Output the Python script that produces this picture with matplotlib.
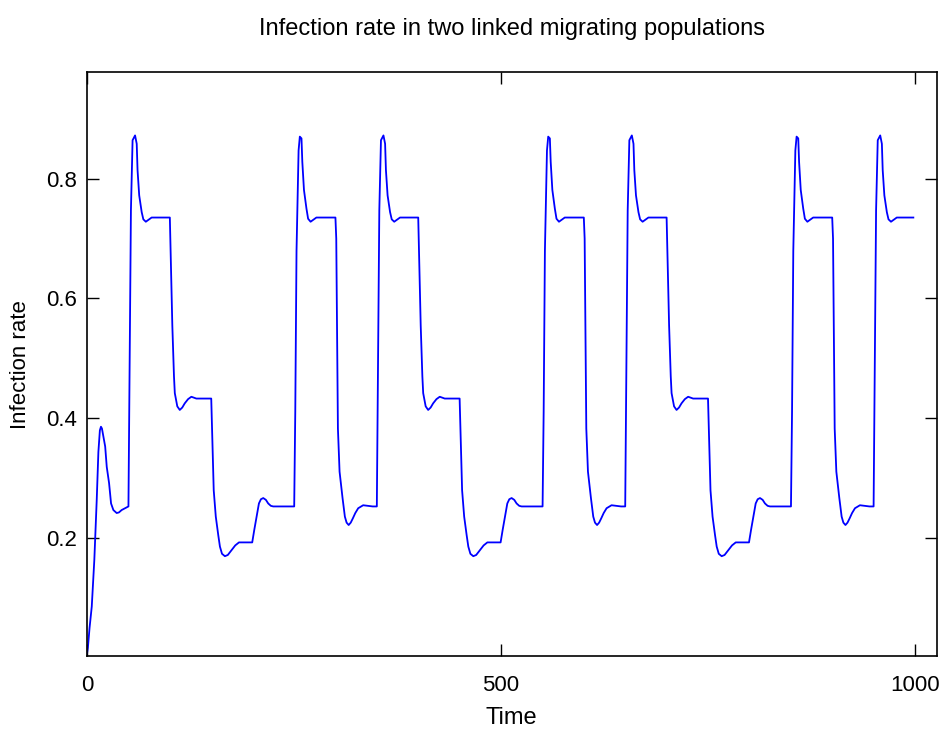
import matplotlib
matplotlib.use("Agg")
import matplotlib.pyplot as plt

plt.rcParams["font.family"] = ["Liberation Sans", "DejaVu Sans"]

# values
time = [0, 1, 3, 5.7, 8.8, 11.7, 13.7, 15.5, 16.8, 18, 21.9, 23.8, 26.6, 29, 31.8, 35.8, 38.5, 41.8, 46,
        # cycle starting at 50
        50, 51, 53, 55, 58, 60, 61, 63, 66, 68, 71, 74, 78, 100,
        101, 103, 105, 106, 109, 112, 115, 118, 122, 126, 132, 150,
        151.5, 153, 155.5, 158.5, 160.5, 163, 166.5, 170, 174.5, 179, 183.5, 199.5,
        202, 204.8, 207.6, 210, 212.8, 216, 218.8, 222, 224.9, 250.2,
        251.5, 253, 255.5, 257, 259, 260, 262, 265, 267, 270, 273, 277, 300,
        301, 303, 305, 308.6, 311.4, 313.5, 316, 318.5, 321, 324, 327.5, 333.5, 345,
        # cycle starting at 350
        350, 351, 353, 355, 358, 360, 361, 363, 366, 368, 371, 374, 378, 400,
        401, 403, 405, 406, 409, 412, 415, 418, 422, 426, 432, 450,
        451.5, 453, 455.5, 458.5, 460.5, 463, 466.5, 470, 474.5, 479, 483.5, 499.5,
        502, 504.8, 507.6, 510, 512.8, 516, 518.8, 522, 524.9, 550.2,
        551.5, 553, 555.5, 557, 559, 560, 562, 565, 567, 570, 573, 577, 600,
        601, 603, 605, 608.6, 611.4, 613.5, 616, 618.5, 621, 624, 627.5, 633.5, 645,
        # cycle starting at 650
        650, 651, 653, 655, 658, 660, 661, 663, 666, 668, 671, 674, 678, 700,
        701, 703, 705, 706, 709, 712, 715, 718, 722, 726, 732, 750,
        751.5, 753, 755.5, 758.5, 760.5, 763, 766.5, 770, 774.5, 779, 783.5, 799.5,
        802, 804.8, 807.6, 810, 812.8, 816, 818.8, 822, 824.9, 850.2,
        851.5, 853, 855.5, 857, 859, 860, 862, 865, 867, 870, 873, 877, 900,
        901, 903, 905, 908.6, 911.4, 913.5, 916, 918.5, 921, 924, 927.5, 933.5, 945,
        # last rise
        950, 951, 953, 955, 958, 960, 961, 963, 966, 968, 971, 974, 978, 998]

rate = [0.008, 0.017, 0.05, 0.086, 0.164, 0.264, 0.344, 0.38, 0.386, 0.383, 0.353, 0.319, 0.292, 0.258, 0.247, 0.242, 0.243, 0.247, 0.25,
        0.253, 0.42, 0.747, 0.864, 0.872, 0.858, 0.814, 0.772, 0.744, 0.732, 0.728, 0.731, 0.735, 0.735,
        0.675, 0.555, 0.47, 0.442, 0.42, 0.414, 0.418, 0.425, 0.432, 0.436, 0.433, 0.433,
        0.353, 0.28, 0.236, 0.205, 0.186, 0.174, 0.170, 0.172, 0.180, 0.188, 0.193, 0.193,
        0.214, 0.236, 0.258, 0.265, 0.267, 0.264, 0.258, 0.254, 0.253, 0.253,
        0.411, 0.679, 0.847, 0.870, 0.867, 0.828, 0.781, 0.75, 0.733, 0.728, 0.731, 0.735, 0.735,
        0.70, 0.383, 0.311, 0.267, 0.236, 0.226, 0.222, 0.226, 0.233, 0.242, 0.25, 0.255, 0.253,

        0.253, 0.42, 0.747, 0.864, 0.872, 0.858, 0.814, 0.772, 0.744, 0.732, 0.728, 0.731, 0.735, 0.735,
        0.675, 0.555, 0.47, 0.442, 0.42, 0.414, 0.418, 0.425, 0.432, 0.436, 0.433, 0.433,
        0.353, 0.28, 0.236, 0.205, 0.186, 0.174, 0.170, 0.172, 0.180, 0.188, 0.193, 0.193,
        0.214, 0.236, 0.258, 0.265, 0.267, 0.264, 0.258, 0.254, 0.253, 0.253,
        0.411, 0.679, 0.847, 0.870, 0.867, 0.828, 0.781, 0.75, 0.733, 0.728, 0.731, 0.735, 0.735,
        0.70, 0.383, 0.311, 0.267, 0.236, 0.226, 0.222, 0.226, 0.233, 0.242, 0.25, 0.255, 0.253,

        0.253, 0.42, 0.747, 0.864, 0.872, 0.858, 0.814, 0.772, 0.744, 0.732, 0.728, 0.731, 0.735, 0.735,
        0.675, 0.555, 0.47, 0.442, 0.42, 0.414, 0.418, 0.425, 0.432, 0.436, 0.433, 0.433,
        0.353, 0.28, 0.236, 0.205, 0.186, 0.174, 0.170, 0.172, 0.180, 0.188, 0.193, 0.193,
        0.214, 0.236, 0.258, 0.265, 0.267, 0.264, 0.258, 0.254, 0.253, 0.253,
        0.411, 0.679, 0.847, 0.870, 0.867, 0.828, 0.781, 0.75, 0.733, 0.728, 0.731, 0.735, 0.735,
        0.70, 0.383, 0.311, 0.267, 0.236, 0.226, 0.222, 0.226, 0.233, 0.242, 0.25, 0.255, 0.253,

        0.253, 0.42, 0.747, 0.864, 0.872, 0.858, 0.814, 0.772, 0.744, 0.732, 0.728, 0.731, 0.735, 0.735]

xticks = [0, 500, 1000]
yticks = [0.2, 0.4, 0.6, 0.8]

fig = plt.figure(figsize=(9.4, 7.3), dpi=100)
ax = fig.add_axes([0.0926, 0.1018, 0.9037, 0.7989])

ax.plot(time, rate, color="#0000FF", linewidth=1.3)

ax.set_xlim(0, 1026)
ax.set_ylim(0.004, 0.977)
ax.set_xticks(xticks)
ax.set_yticks(yticks)
ax.set_xticklabels([str(v) for v in xticks])
ax.set_yticklabels([str(v) for v in yticks])
ax.tick_params(direction="in", length=8.5, width=1, top=True, right=True,
               labelsize=16, pad=7)
ax.tick_params(axis="x", pad=14)
for s in ax.spines.values():
    s.set_linewidth(1.2)

ax.set_title("Infection rate in two linked migrating populations", fontsize=17, pad=27)
ax.set_xlabel("Time", fontsize=17, labelpad=8)
ax.set_ylabel("Infection rate", fontsize=16)
ax.yaxis.set_label_coords(-0.066, 0.5)

fig.savefig("out.png", dpi=100)
